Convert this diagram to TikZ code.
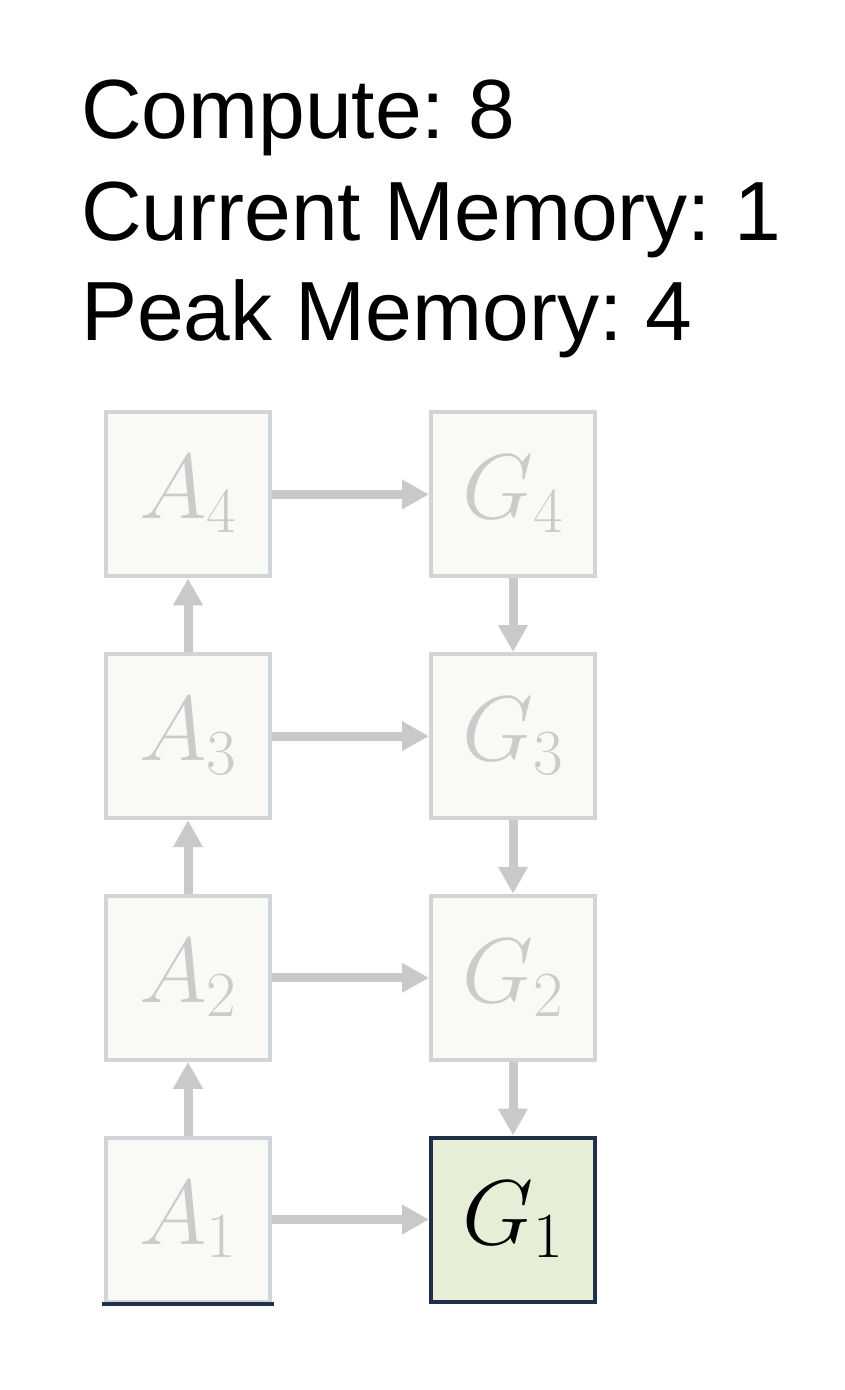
\RequirePackage{fix-cm}
\documentclass[tikz,border=0pt]{standalone}
\usepackage{fontspec}
\setmainfont{Liberation Sans}
\usepackage{tikz}
\usetikzlibrary{arrows.meta}
\frenchspacing

\definecolor{fadefill}{HTML}{F9FAF6}
\definecolor{fadeline}{HTML}{D0D5D9}
\definecolor{fadetext}{HTML}{CBCBCB}
\definecolor{fadearrow}{HTML}{C9C9C9}
\definecolor{gradfill}{HTML}{E6EED8}
\definecolor{navy}{HTML}{1F3047}

\begin{document}
\begin{tikzpicture}[x=1pt, y=-1pt,
    faded/.style={draw=fadeline, fill=fadefill, text=fadetext, line width=4pt,
      minimum size=164pt, inner sep=0pt, font=\fontsize{92}{92}\selectfont},
    active/.style={faded, draw=navy, fill=gradfill, text=black},
    flow/.style={draw=fadearrow, line width=9pt, -{Triangle[length=27pt,width=28pt]}},
    stat/.style={anchor=base west, inner sep=0pt, font=\fontsize{84}{100}\selectfont}]
  \useasboundingbox (0,0) rectangle (844,1390);
  \def \n {4}
  \def \gap {241.7}
  \def \bottom {1219.5}

  % counters
  \node[stat] (compute) at (81,138) {Compute: 8};
  \node[stat] (curmem) at (81,240) {Current Memory: 1};
  \node[stat] (peakmem) at (81,340) {Peak Memory: 4};

  % activations and gradients
  \foreach \s in {1,...,\n}
  {
    \node[faded] (a\s) at (188, {\bottom - \gap*(\s - 1)}) {$A_{\s}$};
  }
  \foreach \s in {2,...,\n}
  {
    \node[faded] (g\s) at (513, {\bottom - \gap*(\s - 1)}) {$G_{\s}$};
  }
  \node[active] (g1) at (513, \bottom) {$G_1$};
  \draw[navy, line width=4pt, line cap=rect] (a1.south west) -- (a1.south east);

  \foreach \s in {1,...,\n}
    \draw[flow] (a\s) -- (g\s);
  \foreach \s in {1,...,3}
  {
    \pgfmathtruncatemacro{\t}{\s + 1}
    \draw[flow] (a\s) -- (a\t);
    \draw[flow] (g\t) -- (g\s);
  }
\end{tikzpicture}
\end{document}
